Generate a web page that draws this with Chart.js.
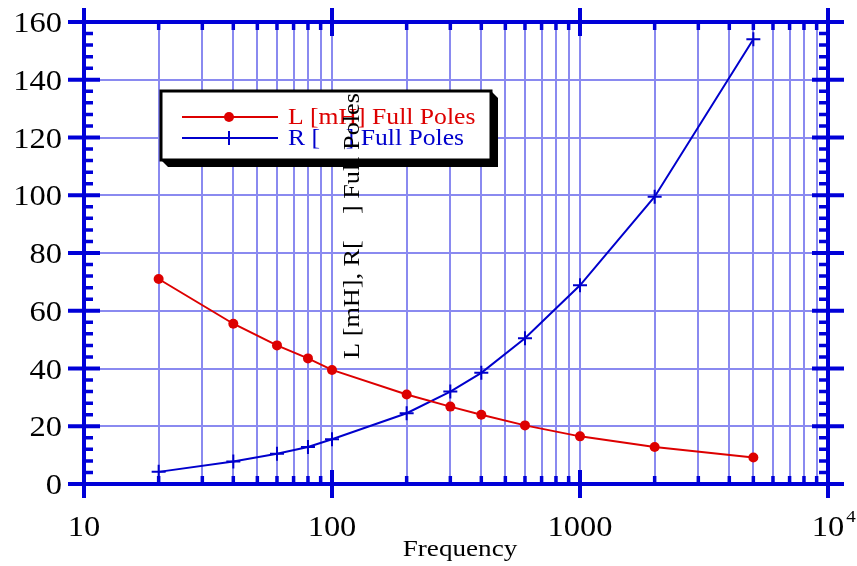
<!DOCTYPE html>
<html>
<head>
<meta charset="utf-8">
<script src="https://cdn.jsdelivr.net/npm/chart.js@4/dist/chart.umd.min.js"></script>
<style>
  html, body { margin: 0; padding: 0; background: #fff; }
  canvas { display: block; }
</style>
</head>
<body>
<canvas id="chart" width="857" height="566"></canvas>
<script>
// ============================================================
// Data
// ============================================================
const freq    = [20, 40, 60, 80, 100, 200, 300, 400, 600, 1000, 2000, 5000];
const lValues = [71, 55.5, 48, 43.5, 39.5, 31, 26.8, 24, 20.3, 16.5, 12.8, 9.2];
const rValues = [4.2, 7.8, 10.5, 12.8, 15.5, 24.5, 32, 38.5, 50.5, 68.8, 99.5, 154];

const seriesLabels = ['L [mH] Full Poles', 'R [    ] Full Poles'];
const yTitle = 'L [mH], R[    ] Full Poles';
const xTitle = 'Frequency';

const xMajor = [10, 100, 1000, 10000];
const xMajorLabels = [['10', ''], ['100', ''], ['1000', ''], ['10', '4']];
const yTicks = [0, 20, 40, 60, 80, 100, 120, 140, 160];

// every 1..9 x 10^n between 10 and 10^4 (grid + minor ticks)
const xGrid = [10, 20, 30, 40, 50, 60, 70, 80, 90,
               100, 200, 300, 400, 500, 600, 700, 800, 900,
               1000, 2000, 3000, 4000, 5000, 6000, 7000, 8000, 9000, 10000];
const yMinorStep = 4;

const AXIS = '#0000d8';
const GRID = '#8a8af0';
const RED = '#dd0000';
const BLUE = '#0000cc';
const FONT = '"Liberation Serif", "Times New Roman", Tinos, serif';

// draw text with slight horizontal stretch like the original
function stretchText(ctx, txt, x, y, size, align, sx) {
  sx = sx || 1.12;
  ctx.save();
  ctx.font = size + 'px ' + FONT;
  const w = ctx.measureText(txt).width * sx;
  let x0 = x;
  if (align === 'center') x0 = x - w / 2;
  else if (align === 'right') x0 = x - w;
  ctx.translate(x0, y);
  ctx.scale(sx, 1);
  ctx.textAlign = 'left';
  ctx.textBaseline = 'alphabetic';
  ctx.fillText(txt, 0, 0);
  ctx.restore();
  return w;
}

// ============================================================
// Frame, ticks and labels
// ============================================================
const framePlugin = {
  id: 'frame',
  beforeDatasetsDraw(chart) {
    const { ctx, chartArea: a, scales: { x, y } } = chart;
    ctx.save();
    ctx.strokeStyle = AXIS;
    ctx.lineCap = 'butt';

    // main axis lines (extended past corners)
    ctx.lineWidth = 4;
    ctx.beginPath();
    ctx.moveTo(a.left, a.top - 13); ctx.lineTo(a.left, a.bottom + 14);
    ctx.moveTo(a.right, a.top - 13); ctx.lineTo(a.right, a.bottom + 14);
    ctx.moveTo(a.left - 16, a.top); ctx.lineTo(a.right + 16, a.top);
    ctx.moveTo(a.left - 16, a.bottom); ctx.lineTo(a.right + 16, a.bottom);
    ctx.stroke();

    // major y ticks
    yTicks.forEach(v => {
      const py = y.getPixelForValue(v);
      ctx.beginPath();
      ctx.moveTo(a.left - 16, py); ctx.lineTo(a.left + 16, py);
      ctx.moveTo(a.right - 16, py); ctx.lineTo(a.right + 16, py);
      ctx.stroke();
    });
    // major x ticks
    xMajor.forEach(v => {
      const px = x.getPixelForValue(v);
      ctx.beginPath();
      ctx.moveTo(px, a.bottom - 14); ctx.lineTo(px, a.bottom + 14);
      ctx.moveTo(px, a.top - 14); ctx.lineTo(px, a.top + 14);
      ctx.stroke();
    });

    // minor ticks
    ctx.lineWidth = 3.5;
    for (let v = 0; v <= 160; v += yMinorStep) {
      if (v % 20 === 0) continue;
      const py = y.getPixelForValue(v);
      ctx.beginPath();
      ctx.moveTo(a.left, py); ctx.lineTo(a.left + 9, py);
      ctx.moveTo(a.right - 9, py); ctx.lineTo(a.right, py);
      ctx.stroke();
    }
    xGrid.forEach(v => {
      if (xMajor.includes(v)) return;
      const px = x.getPixelForValue(v);
      ctx.beginPath();
      ctx.moveTo(px, a.bottom); ctx.lineTo(px, a.bottom - 8);
      ctx.moveTo(px, a.top); ctx.lineTo(px, a.top + 8);
      ctx.stroke();
    });

    // tick labels
    ctx.fillStyle = '#000';
    yTicks.forEach(v => {
      const py = y.getPixelForValue(v);
      stretchText(ctx, String(v), a.left - 22, py + 10, 29, 'right');
    });
    xMajor.forEach((v, i) => {
      const px = x.getPixelForValue(v);
      const [base, sup] = xMajorLabels[i];
      const w = stretchText(ctx, base, px, a.bottom + 52, 29, 'center');
      if (sup) stretchText(ctx, sup, px + w / 2 + 2, a.bottom + 38, 17, 'left');
    });

    // x title
    stretchText(ctx, xTitle, (a.left + a.right) / 2 + 4, a.bottom + 72, 23, 'center', 1.18);
    ctx.restore();
  },
  afterDraw(chart) {
    const { ctx } = chart;
    ctx.save();
    // legend box with 3D shadow
    const bx = 161, by = 91, bw = 330, bh = 69, sh = 7;
    ctx.fillStyle = '#000';
    ctx.beginPath();
    ctx.moveTo(bx + bw, by);
    ctx.lineTo(bx + bw + sh, by + sh);
    ctx.lineTo(bx + bw + sh, by + bh + sh);
    ctx.lineTo(bx + sh, by + bh + sh);
    ctx.lineTo(bx, by + bh);
    ctx.closePath();
    ctx.fill();
    ctx.fillStyle = '#fff';
    ctx.fillRect(bx, by, bw, bh);
    ctx.strokeStyle = '#000';
    ctx.lineWidth = 3;
    ctx.strokeRect(bx, by, bw, bh);

    const ds = chart.data.datasets;
    const rows = [117, 138];
    ds.forEach((d, i) => {
      const ly = rows[i];
      ctx.strokeStyle = d.borderColor;
      ctx.lineWidth = 2;
      ctx.beginPath();
      ctx.moveTo(182, ly); ctx.lineTo(278, ly);
      ctx.stroke();
      if (d.pointStyle === 'circle') {
        ctx.fillStyle = d.borderColor;
        ctx.beginPath(); ctx.arc(229, ly, 5, 0, Math.PI * 2); ctx.fill();
      } else {
        ctx.beginPath();
        ctx.moveTo(222, ly); ctx.lineTo(236, ly);
        ctx.moveTo(229, ly - 7); ctx.lineTo(229, ly + 7);
        ctx.stroke();
      }
      ctx.fillStyle = d.borderColor;
      stretchText(ctx, d.label, 288, ly + 7, 22.5, 'left', 1.14);
    });

    // y title, rotated, drawn over the plot
    ctx.fillStyle = '#000';
    ctx.translate(359, 226);
    ctx.rotate(-Math.PI / 2);
    stretchText(ctx, yTitle, 0, 0, 23, 'center', 1.14);
    ctx.restore();
  }
};

new Chart(document.getElementById('chart'), {
  type: 'line',
  data: {
    datasets: [
      {
        label: seriesLabels[0],
        data: freq.map((f, i) => ({ x: f, y: lValues[i] })),
        borderColor: RED,
        backgroundColor: RED,
        borderWidth: 2,
        pointStyle: 'circle',
        pointRadius: 5,
        pointBorderWidth: 0,
        tension: 0
      },
      {
        label: seriesLabels[1],
        data: freq.map((f, i) => ({ x: f, y: rValues[i] })),
        borderColor: BLUE,
        backgroundColor: BLUE,
        borderWidth: 2,
        pointStyle: 'cross',
        pointRadius: 7,
        pointBorderWidth: 2,
        tension: 0
      }
    ]
  },
  options: {
    responsive: false,
    animation: false,
    devicePixelRatio: 1,
    layout: { padding: { left: 84, right: 29, top: 22, bottom: 82 } },
    plugins: { legend: { display: false }, tooltip: { enabled: false } },
    scales: {
      x: {
        type: 'logarithmic',
        min: 10, max: 10000,
        afterBuildTicks: s => { s.ticks = xGrid.map(v => ({ value: v })); },
        ticks: { display: false },
        grid: { color: GRID, lineWidth: 2, drawTicks: false },
        border: { display: false }
      },
      y: {
        type: 'linear',
        min: 0, max: 160,
        afterBuildTicks: s => { s.ticks = yTicks.map(v => ({ value: v })); },
        ticks: { display: false },
        grid: { color: GRID, lineWidth: 2, drawTicks: false },
        border: { display: false }
      }
    }
  },
  plugins: [framePlugin]
});
</script>
</body>
</html>
